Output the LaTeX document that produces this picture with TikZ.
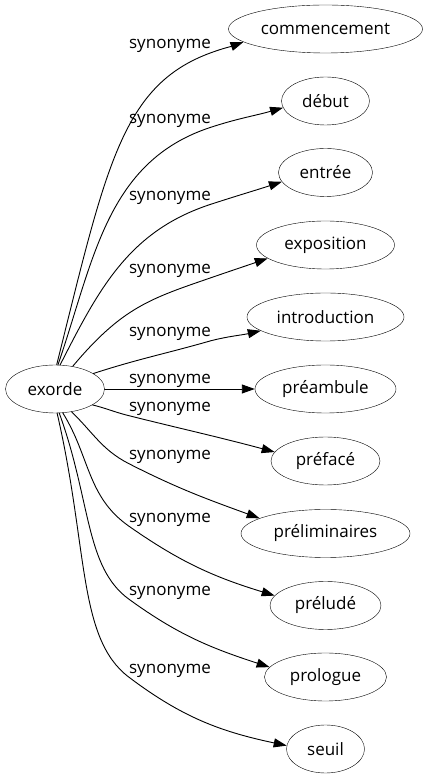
\documentclass[tikz,border=0pt]{standalone}
\usepackage{fontspec}
\setmainfont{Open Sans}
\usepackage{tikz}
\usetikzlibrary{arrows.meta,shapes.geometric,positioning}
\newcommand{\wordfont}{\fontsize{17}{20}\selectfont}

\begin{document}
\begin{tikzpicture}[line cap=round,line join=round,>={Triangle[length=13pt,width=9pt]},
x=1pt,y=1pt,
word/.style={draw, ellipse, inner sep=0pt, minimum height=48pt, font=\wordfont},
synlab/.style={inner sep=0pt, anchor=base, text depth=3.5pt, font=\wordfont},
syn/.style={draw, line width=0.9pt, ->}]
\useasboundingbox (0,0) rectangle (427,779);
% source
\node[word, minimum width=99pt] (exorde) at (55,390) {exorde};
% synonyms
\node[word, minimum width=194pt] (commencement) at (325.5,750) {commencement};
\node[word, minimum width=88pt] (debut) at (325.5,678) {début};
\node[word, minimum width=94pt] (entree) at (325.5,606.5) {entrée};
\node[word, minimum width=138pt] (exposition) at (325.5,534) {exposition};
\node[word, minimum width=157pt] (introduction) at (325.5,462) {introduction};
\node[word, minimum width=141pt] (preambule) at (325.5,390) {préambule};
\node[word, minimum width=109pt] (preface) at (325.5,318) {préfacé};
\node[word, minimum width=169pt] (preliminaires) at (325.5,245.5) {préliminaires};
\node[word, minimum width=111pt] (prelude) at (325.5,173.5) {préludé};
\node[word, minimum width=122pt] (prologue) at (325.5,102) {prologue};
\node[word, minimum width=78pt] (seuil) at (325.5,30) {seuil};
% edge labels
\node[synlab] (l1) at (170,730) {synonyme};
\node[synlab] (l2) at (170,655.5) {synonyme};
\node[synlab] (l3) at (170,578.5) {synonyme};
\node[synlab] (l4) at (170,505) {synonyme};
\node[synlab] (l5) at (170,442) {synonyme};
\node[synlab] (l6) at (170,395) {synonyme};
\node[synlab] (l7) at (170,367) {synonyme};
\node[synlab] (l8) at (170,319) {synonyme};
\node[synlab] (l9) at (170,256.5) {synonyme};
\node[synlab] (l10) at (170,183.5) {synonyme};
\node[synlab] (l11) at (170,105.5) {synonyme};
% upper edges
\draw[syn] (exorde.86) to[out=76,in=200,out looseness=1.5,in looseness=0.7] (l1.south east) to[out=20,in=200] (commencement.189);
\draw[syn] (exorde.83) to[out=71,in=198] (l2.south east) to[out=18,in=196] (debut.189);
\draw[syn] (exorde.78) to[out=63,in=198] (l3.south east) to[out=18,in=198] (entree.192);
\draw[syn] (exorde.52) to[out=50,in=199,out looseness=1.2] (l4.south east) to[out=19,in=199] (exposition.193);
\draw[syn] (exorde.22) to[out=18,in=196] (l5.south east) to[out=14,in=193] (introduction.192);
\draw[syn] (exorde) -- (preambule);
% lower edges
\draw[syn] (exorde.-23) to[out=-14,in=166] (l7.south west) to[out=-14,in=165] (preface.170);
\draw[syn] (exorde.-54) to[out=-44,in=153] (l8.south west) to[out=-27,in=160] (preliminaires.167);
\draw[syn] (exorde.-72) to[out=-58,in=145] (l9.south west) to[out=-35,in=163] (prelude.169);
\draw[syn] (exorde.-80) to[out=-70,in=144,out looseness=1.2,in looseness=0.7] (l10.south west) to[out=-36,in=162] (prologue.170);
\draw[syn] (exorde.-85) to[out=-77,in=143,out looseness=1.3,in looseness=0.6] (l11.south west) to[out=-37,in=168] (seuil.175);
\end{tikzpicture}
\end{document}
